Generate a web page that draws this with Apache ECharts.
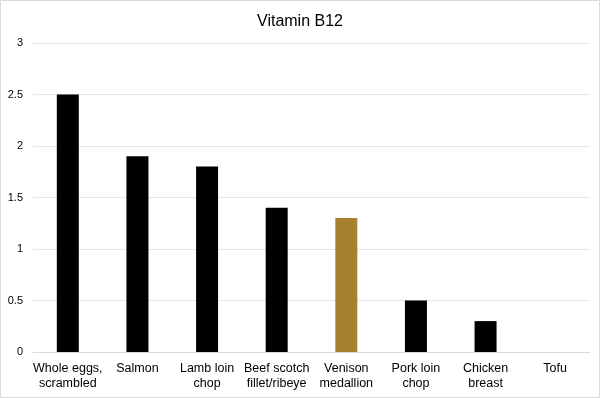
<!DOCTYPE html>
<html><head><meta charset="utf-8">
<script src="https://cdn.jsdelivr.net/npm/echarts@6/dist/echarts.min.js"></script>
<style>html,body{margin:0;padding:0;background:#fff}#c{width:600px;height:398px}</style>
</head><body><div id="c"></div>
<script>
const categories = ["Whole eggs,\nscrambled","Salmon","Lamb loin\nchop","Beef scotch\nfillet/ribeye","Venison\nmedallion","Pork loin\nchop","Chicken\nbreast","Tofu"];
const values = [2.5, 1.9, 1.8, 1.4, 1.3, 0.5, 0.3, 0];
const barColors = ["#000000","#000000","#000000","#000000","#A6822E","#000000","#000000","#000000"];
const yTicks = [0, 0.5, 1, 1.5, 2, 2.5, 3];
const chart = echarts.init(document.getElementById('c'));
chart.setOption({
  animation: false,
  graphic: [{type:'rect', shape:{x:0.5,y:0.5,width:599,height:397}, style:{fill:'none', stroke:'#d9d9d9', lineWidth:1}}],
  title: {text:'Vitamin B12', left:'center', top:9, textStyle:{fontFamily:'Liberation Sans', fontSize:16, fontWeight:'normal', color:'#000'}},
  grid: {left:33, right:10, top:43, bottom:46, containLabel:false},
  xAxis: {type:'category', data:categories,
    axisLine:{lineStyle:{color:'#d9d9d9'}}, axisTick:{show:false},
    axisLabel:{fontFamily:'Liberation Sans', fontSize:12.5, color:'#000', interval:0, lineHeight:15, margin:9}},
  yAxis: {type:'value', min:0, max:3, interval:0.5,
    axisLine:{show:false}, axisTick:{show:false},
    splitLine:{lineStyle:{color:'#e6e6e6'}},
    axisLabel:{fontFamily:'Liberation Sans', fontSize:11, color:'#000', margin:10,
      formatter: v => yTicks.includes(v) ? String(v) : ''}},
  series: [{type:'bar', data: values.map((v,i)=>({value:v, itemStyle:{color:barColors[i]}})), barWidth:22}]
});
</script></body></html>
